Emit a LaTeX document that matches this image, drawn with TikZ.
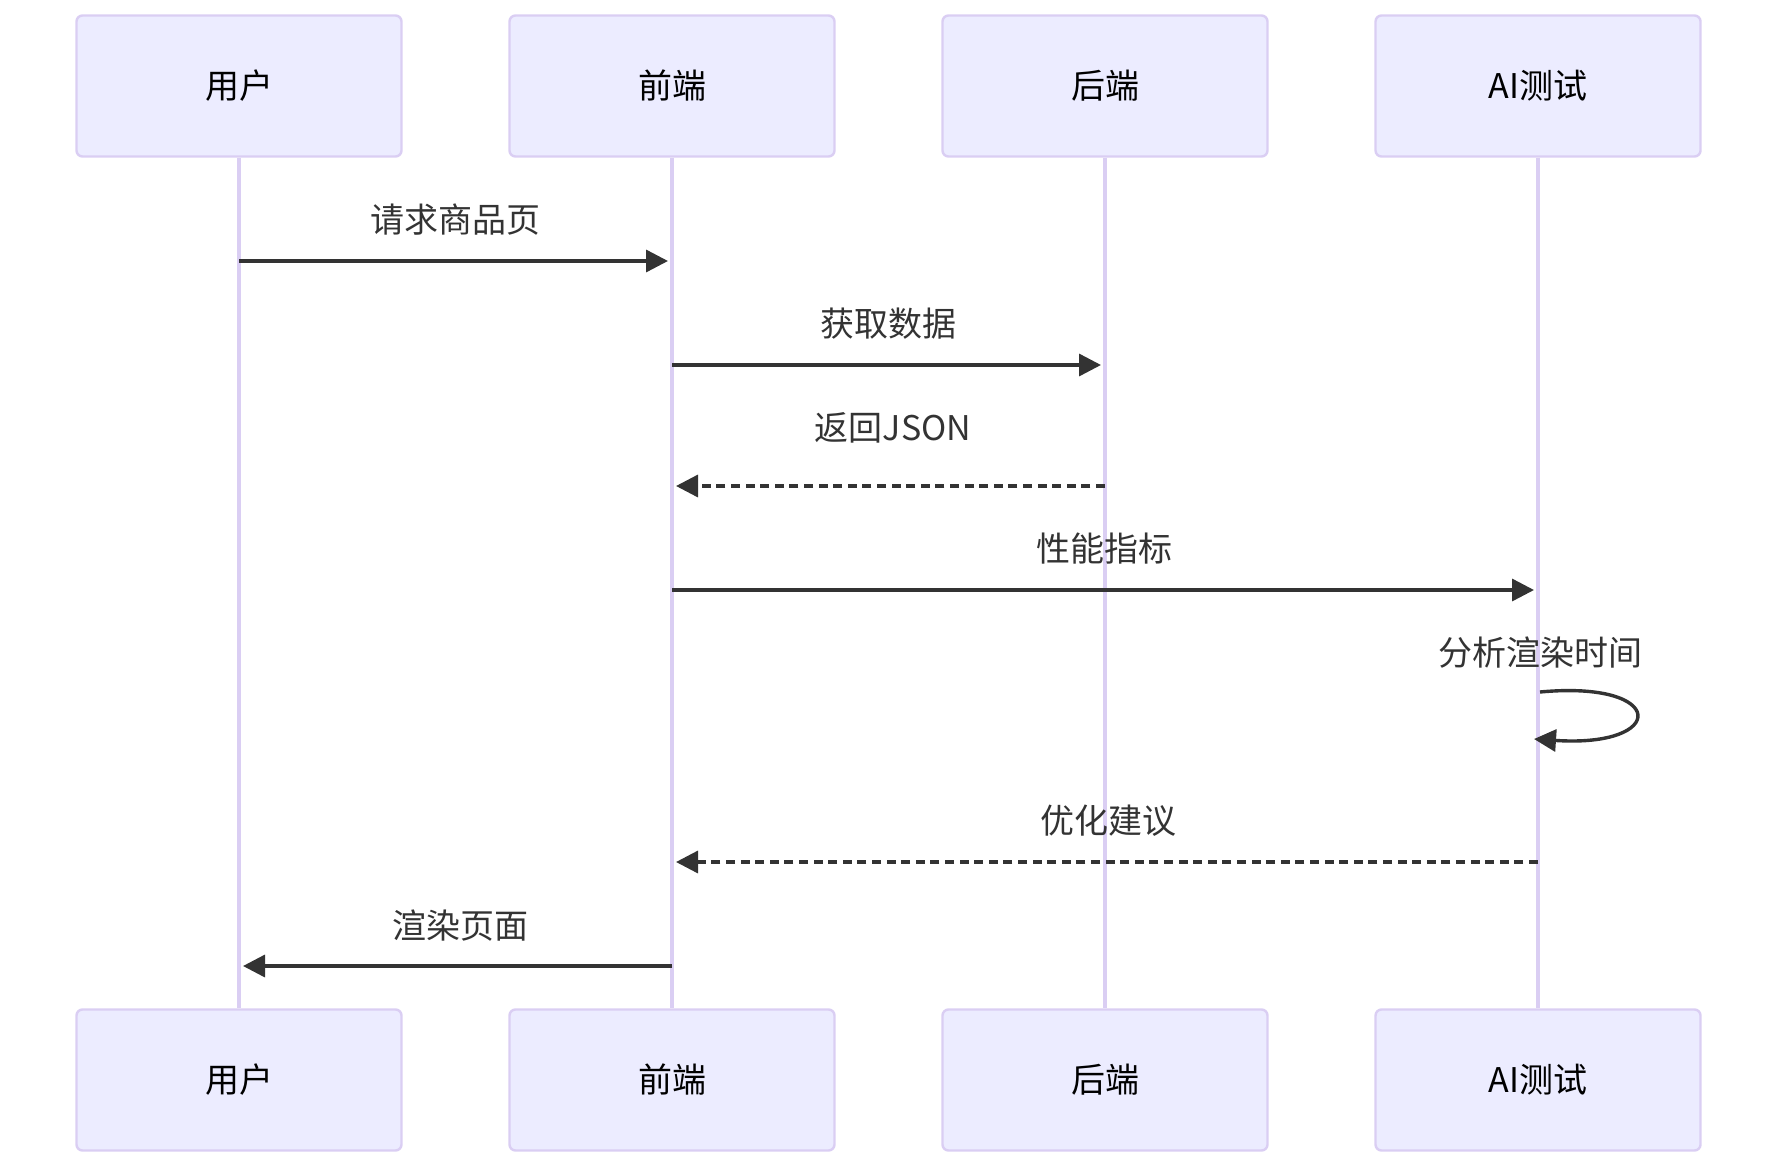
\documentclass[tikz,border=0pt]{standalone}
\usepackage{fontspec}
\setmainfont{Noto Sans CJK SC}
\usetikzlibrary{arrows.meta}
\definecolor{actorfill}{RGB}{236,236,255}
\definecolor{actorline}{RGB}{218,206,243}
\definecolor{msgcolor}{RGB}{51,51,51}
\begin{document}
\begin{tikzpicture}[
        x=0.5pt, y=-0.5pt,
        actor/.style={rectangle, rounded corners=3pt, draw=actorline, line width=1.2pt, fill=actorfill, minimum width=162.5pt, minimum height=70.5pt, align=center, font=\fontsize{17}{20}\selectfont},
        lifeline/.style={draw=actorline, line width=2pt},
        msg/.style={draw=msgcolor, line width=1.7pt, -{Triangle[length=11pt,width=11pt]}},
        reply/.style={msg, dash pattern=on 4.5pt off 2.8pt},
        msglabel/.style={text=msgcolor, font=\fontsize{17}{20}\selectfont}
    ]
    \useasboundingbox (0,0) rectangle (1791,1166);

    % Lifelines
    \node[actor] (u1) at (239, 86) {用户};
    \node[actor] (f1) at (672, 86) {前端};
    \node[actor] (b1) at (1105, 86) {后端};
    \node[actor] (a1) at (1538, 86) {AI测试};
    \node[actor] (u2) at (239, 1080) {用户};
    \node[actor] (f2) at (672, 1080) {前端};
    \node[actor] (b2) at (1105, 1080) {后端};
    \node[actor] (a2) at (1538, 1080) {AI测试};
    \draw[lifeline] (u1) -- (u2);
    \draw[lifeline] (f1) -- (f2);
    \draw[lifeline] (b1) -- (b2);
    \draw[lifeline] (a1) -- (a2);

    % Messages
    \draw[msg] (u1 |- 0,261) -- ([xshift=-2pt]f1 |- 0,261);
    \node[msglabel] (m1) at (455, 220) {请求商品页};
    \draw[msg] (f1 |- 0,365) -- ([xshift=-2pt]b1 |- 0,365);
    \node[msglabel] (m2) at (888, 324) {获取数据};
    \draw[reply] (b1 |- 0,486) -- ([xshift=2pt]f1 |- 0,486);
    \node[msglabel] (m3) at (893, 428) {返回JSON};
    \draw[msg] (f1 |- 0,590) -- ([xshift=-2pt]a1 |- 0,590);
    \node[msglabel] (m4) at (1104, 549) {性能指标};
    \node[msglabel] (m5) at (1540, 653) {分析渲染时间};
    \draw[msg] ([xshift=1pt]a1 |- 0,692) .. controls (1668,680) and (1668,748) .. ([xshift=-2pt]a1 |- 0,739);
    \draw[reply] (a1 |- 0,862) -- ([xshift=2pt]f1 |- 0,862);
    \node[msglabel] (m6) at (1108, 821) {优化建议};
    \draw[msg] (f1 |- 0,966) -- ([xshift=2pt]u1 |- 0,966);
    \node[msglabel] (m7) at (460, 926) {渲染页面};

\end{tikzpicture}
\end{document}
